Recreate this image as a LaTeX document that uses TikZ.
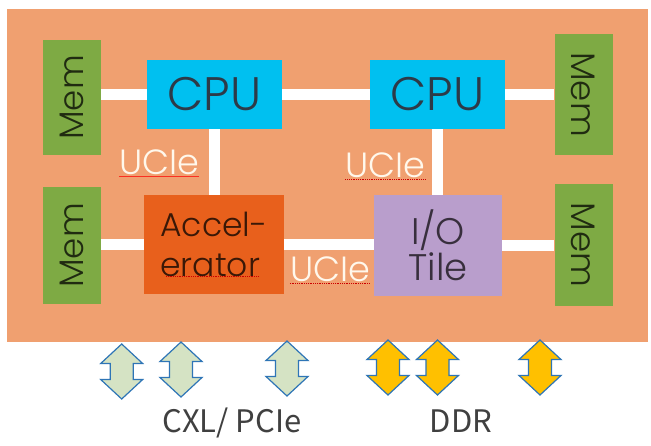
\documentclass[tikz,border=0pt]{standalone}
\usepackage{fontspec}
\usepackage{graphicx}
\IfFontExistsTF{Poppins Light}{\setmainfont{Poppins Light}}{\setmainfont{Poppins}}
\newfontfamily\jpfont{Noto Sans CJK JP}
\definecolor{boardc}{RGB}{240,160,112}
\definecolor{memg}{RGB}{126,170,68}
\definecolor{cpuc}{RGB}{0,192,240}
\definecolor{accc}{RGB}{232,96,28}
\definecolor{ioc}{RGB}{185,158,204}
\definecolor{txtc}{RGB}{45,58,72}
\definecolor{arrb}{RGB}{46,117,182}
\definecolor{arrg}{RGB}{213,227,196}
\definecolor{arry}{RGB}{255,192,0}
\definecolor{cream}{RGB}{255,248,236}
\definecolor{graytxt}{RGB}{64,64,64}
\newcommand\dblarr[3]{%
  \filldraw[arrowline, fill=#3] (#1,#2) -- ++(21,19.5) -- ++(-9.5,0) -- ++(0,16) -- ++(9.5,0)
    -- ++(-21,19.5) -- ++(-21,-19.5) -- ++(9.5,0) -- ++(0,-16) -- ++(-9.5,0) -- cycle;}
\tikzset{
  box/.style={rectangle, draw=none, inner sep=0pt, text=txtc},
  membox/.style={box, fill=memg, minimum width=58, minimum height=#1, text=black!75!memg, font=\fontsize{34}{34}\selectfont},
  cpubox/.style={box, fill=cpuc, minimum width=135, minimum height=69, font=\fontsize{47}{47}\selectfont},
  link/.style={draw=white, line width=10.5pt},
  ucie/.style={inner sep=0pt, text=cream, font=\fontsize{35}{35}\selectfont},
  spell/.style={draw=red!80!black, line width=0.8pt, densely dotted},
  arrowline/.style={draw=arrb, line width=1.2pt, line join=miter},
  bottomtxt/.style={inner sep=0pt, text=graytxt, font=\jpfont\fontsize{31}{31}\selectfont}
}
\begin{document}
\begin{tikzpicture}[x=1pt,y=-1pt]
\useasboundingbox (0,0) rectangle (651,445);
\fill[white] (0,0) rectangle (651,445);
\node[box, fill=boardc, minimum width=641, minimum height=333] (board) at (327.5,175.5) {};

% nodes
\node[membox=115] (memL1) at (72,97.5) {\rotatebox{90}{Mem}};
\node[membox=117] (memL2) at (72,245.5) {\rotatebox{90}{Mem}};
\node[membox=121] (memR1) at (583.5,94.5) {\rotatebox{-90}{Mem}};
\node[membox=122] (memR2) at (583.5,245) {\rotatebox{-90}{Mem}};
\node[cpubox] (cpuL) at (214.5,94.5) {CPU};
\node[cpubox] (cpuR) at (437.5,94.5) {CPU};
\node[box, fill=accc, minimum width=140, minimum height=99, align=left,
      text=black!75!accc, font=\fontsize{33}{40}\selectfont] (acc) at (214,244.5) {Accel-\\erator};
\node[box, fill=ioc, minimum width=128, minimum height=101, align=center,
      text=black!70!ioc, font=\fontsize{37}{36}\selectfont] (io) at (438,245.5) {I/O\\Tile};

% links
\draw[link] (memL1.east |- cpuL.west) -- (cpuL.west);
\draw[link] (cpuL.east) -- (cpuR.west);
\draw[link] (cpuR.east) -- (cpuR.east -| memR1.west);
\draw[link] (cpuL.south) -- (cpuL.south |- acc.north);
\draw[link] (cpuR.south) -- (cpuR.south |- io.north);
\draw[link] (memL2.east |- acc.west) -- (acc.west);
\draw[link] (acc.east) -- (acc.east -| io.west);
\draw[link] (io.east) -- (io.east -| memR2.west);

% UCIe labels
\node[ucie] (ucL) at (159,162.5) {UCIe};
\node[ucie] (ucR) at (385.5,165.5) {UCIe};
\node[ucie] (ucB) at (330,269) {UCIe};
\draw[spell, solid, draw=red!70!boardc] ([yshift=-1.5pt]ucL.south west) -- ([yshift=-1.5pt]ucL.south east);
\draw[spell] ([yshift=-1.5pt]ucR.south west) -- ([yshift=-1.5pt]ucR.south east);
\draw[spell] ([yshift=-1.5pt]ucB.south west) -- ([yshift=-1.5pt]ucB.south east);
\draw[spell] ([xshift=-48pt,yshift=-32pt]acc.center) -- ([xshift=44pt,yshift=-32pt]acc.center);

% bottom arrows
\dblarr{121.7}{344}{arrg}
\dblarr{181}{342}{arrg}
\dblarr{287}{341}{arrg}
\dblarr{388}{340}{arry}
\dblarr{437.5}{340}{arry}
\dblarr{540}{340}{arry}

\node[bottomtxt] (cxl) at (232,422.5) {CXL/ PCIe};
\node[bottomtxt] (ddr) at (461,421.5) {DDR};
\end{tikzpicture}
\end{document}
